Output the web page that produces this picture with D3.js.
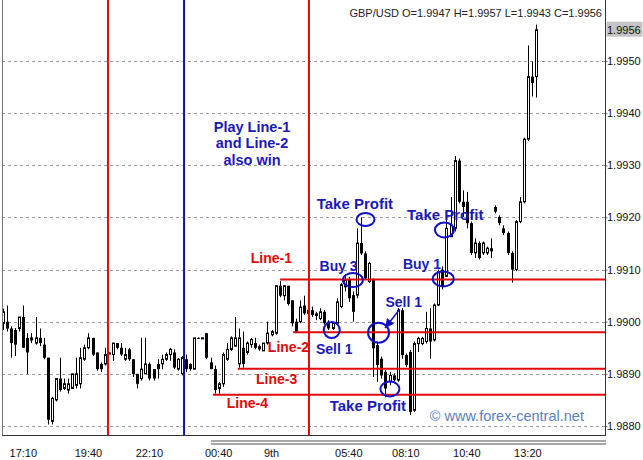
<!DOCTYPE html>
<html><head><meta charset="utf-8">
<script src="https://cdn.jsdelivr.net/npm/d3@7"></script>
<style>
html,body{margin:0;padding:0;background:#fff;}
svg{display:block;font-family:"Liberation Sans",Arial,sans-serif;}
</style></head>
<body><svg id="c" width="643" height="460"></svg>
<script>
// ---------- DATA ----------
const symbol = "GBP/USD";
const open = [1.98997,1.99000,1.98987,1.98984,1.98987,1.99009,1.98969,1.98965,1.98959,1.98969,
1.98956,1.98931,1.98809,1.98850,1.98891,1.98872,1.98869,1.98872,1.98878,1.98881,
1.98928,1.98950,1.98969,1.98941,1.98919,1.98919,1.98939,1.98937,1.98959,1.98950,
1.98928,1.98947,1.98928,1.98900,1.98891,1.98900,1.98919,1.98909,1.98919,1.98919,
1.98928,1.98937,1.98941,1.98909,1.98900,1.98928,1.98919,1.98909,1.98969,1.98968,
1.98978,1.98922,1.98909,1.98872,1.98881,1.98928,1.98947,1.98953,1.98919,1.98950,
1.98941,1.98956,1.98959,1.98953,1.98944,1.98959,1.98975,1.98978,1.99069,1.99050,
1.99069,1.99041,1.99000,1.99000,1.99031,1.99016,1.99022,1.99016,1.99006,1.99019,
1.99000,1.98987,1.98997,1.99029,1.99067,1.99080,1.99051,1.99051,1.99151,1.99131,
1.99077,1.99080,1.98955,1.98929,1.98904,1.98885,1.98897,1.98888,1.99022,1.98936,
1.98942,1.98830,1.98958,1.98958,1.98962,1.98987,1.98965,1.99032,1.99100,1.99087,
1.99163,1.99179,1.99309,1.99230,1.99230,1.99189,1.99132,1.99151,1.99132,1.99132,
1.99141,1.99220,1.99201,1.99179,1.99170,1.99132,1.99100,1.99192,1.99230,1.99350,
1.99470,1.99470];
const high = [1.99025,1.99031,1.98991,1.98988,1.99009,1.99031,1.98978,1.98978,1.99009,1.98987,
1.98969,1.98931,1.98856,1.98891,1.98931,1.98891,1.98891,1.98900,1.98931,1.98950,
1.98956,1.98978,1.98969,1.98941,1.98922,1.98950,1.98941,1.98959,1.98959,1.98959,
1.98950,1.98950,1.98928,1.98900,1.98969,1.98969,1.98922,1.98909,1.98928,1.98937,
1.98941,1.98950,1.98947,1.98930,1.98934,1.98937,1.98920,1.98969,1.98970,1.98970,
1.98978,1.98931,1.98916,1.98884,1.98941,1.98959,1.98972,1.99009,1.98987,1.98981,
1.98962,1.98969,1.98969,1.98956,1.98959,1.99000,1.98984,1.99069,1.99078,1.99069,
1.99069,1.99041,1.99006,1.99041,1.99050,1.99025,1.99029,1.99019,1.99026,1.99022,
1.99003,1.99000,1.99045,1.99074,1.99090,1.99086,1.99058,1.99179,1.99200,1.99135,
1.99115,1.99083,1.98962,1.98933,1.98907,1.98904,1.98901,1.99026,1.99026,1.98939,
1.98946,1.98962,1.98971,1.98971,1.99019,1.99026,1.99035,1.99100,1.99106,1.99201,
1.99239,1.99318,1.99313,1.99252,1.99249,1.99192,1.99160,1.99154,1.99154,1.99144,
1.99160,1.99223,1.99204,1.99185,1.99173,1.99135,1.99195,1.99239,1.99353,1.99530,
1.99499,1.99570];
const low = [1.98984,1.98981,1.98931,1.98934,1.98981,1.98950,1.98900,1.98959,1.98956,1.98953,
1.98928,1.98803,1.98803,1.98847,1.98866,1.98869,1.98862,1.98872,1.98872,1.98872,
1.98925,1.98947,1.98934,1.98906,1.98903,1.98916,1.98938,1.98925,1.98947,1.98934,
1.98925,1.98925,1.98894,1.98872,1.98887,1.98900,1.98887,1.98887,1.98891,1.98909,
1.98925,1.98925,1.98909,1.98906,1.98897,1.98903,1.98906,1.98909,1.98967,1.98967,
1.98928,1.98909,1.98862,1.98862,1.98875,1.98925,1.98944,1.98953,1.98912,1.98912,
1.98937,1.98950,1.98947,1.98944,1.98944,1.98956,1.98972,1.98975,1.99047,1.99041,
1.99031,1.98991,1.98978,1.98997,1.99013,1.99013,1.99009,1.99003,1.99003,1.98994,
1.98984,1.98984,1.98994,1.99026,1.99058,1.99038,1.99000,1.99045,1.99128,1.99080,
1.99074,1.98894,1.98885,1.98891,1.98855,1.98878,1.98885,1.98885,1.98929,1.98913,
1.98821,1.98827,1.98942,1.98955,1.98958,1.98929,1.98962,1.99030,1.99062,1.99087,
1.99163,1.99173,1.99227,1.99201,1.99179,1.99128,1.99122,1.99119,1.99128,1.99128,
1.99122,1.99208,1.99185,1.99166,1.99128,1.99075,1.99097,1.99189,1.99227,1.99347,
1.99432,1.99430];
const close = [1.99019,1.98987,1.98959,1.98956,1.99009,1.98950,1.98941,1.98969,1.98969,1.98959,
1.98931,1.98812,1.98853,1.98891,1.98869,1.98881,1.98881,1.98900,1.98900,1.98931,
1.98950,1.98969,1.98937,1.98909,1.98909,1.98937,1.98940,1.98959,1.98950,1.98937,
1.98937,1.98928,1.98900,1.98881,1.98909,1.98919,1.98891,1.98891,1.98909,1.98928,
1.98937,1.98947,1.98912,1.98928,1.98931,1.98909,1.98909,1.98969,1.98968,1.98969,
1.98931,1.98909,1.98869,1.98881,1.98937,1.98947,1.98969,1.98969,1.98969,1.98919,
1.98959,1.98966,1.98950,1.98947,1.98959,1.98978,1.98981,1.99069,1.99050,1.99069,
1.99034,1.98997,1.98981,1.99028,1.99016,1.99022,1.99013,1.99011,1.99019,1.98997,
1.98987,1.98997,1.99038,1.99071,1.99080,1.99045,1.99019,1.99151,1.99131,1.99083,
1.99112,1.98949,1.98917,1.98897,1.98872,1.98897,1.98888,1.99022,1.98936,1.98917,
1.98827,1.98958,1.98968,1.98968,1.98987,1.98962,1.99032,1.99096,1.99068,1.99179,
1.99185,1.99309,1.99230,1.99220,1.99189,1.99132,1.99151,1.99122,1.99151,1.99141,
1.99135,1.99211,1.99189,1.99170,1.99132,1.99100,1.99192,1.99230,1.99350,1.99470,
1.99458,1.99560];

const yTicks = [1.9880,1.9890,1.9900,1.9910,1.9920,1.9930,1.9940,1.9950];
const timeLabels = ["17:10","19:40","22:10","00:40","9th","05:40","08:10","10:40","13:20"];
const timeLabelBars = [5,21,36,53,66,85,99,114,129];

// vertical time lines (bar position) and colours
const vLineBars = [25.8,44.5,75.2];
const vLineKinds = ["red","blue","red"];

// horizontal levels: price and starting bar
const levelPrices = [1.99081,1.98980,1.98910,1.98860];
const levelStartBars = [68.1,71.3,57.7,51.6];

const levelNames = ["Line-1","Line-2","Line-3","Line-4"];
const levelNameBars = [60.9,65.1,62.2,55.0];
const levelNamePrices = [1.99113,1.98942,1.98881,1.98835];

const noteLines = ["Play Line-1","and Line-2","also win"];
const noteBar = 61.2;
const notePrices = [1.99364,1.99333,1.99301];

const markNames = ["Take Profit","Buy 3","Buy 1","Take Profit","Sell 1","Sell 1","Take Profit"];
const markNameBars = [77.1,77.8,98.3,99.3,94.0,76.9,80.3];
const markNamePrices = [1.99216,1.99097,1.99101,1.99195,1.99028,1.98938,1.98829];

const circleBars = [89.1,86.0,80.8,92.3,95.1,108.5,108.2];
const circlePrices = [1.99196,1.99080,1.98984,1.98979,1.98871,1.99176,1.99082];

const arrowBars = [97.5,93.9];
const arrowPrices = [1.99024,1.98988];

const copyright = "\u00A9 www.forex-central.net";
const copyBar = 104.9;
const copyPrice = 1.98809;

// ---------- STYLE ----------
const RED = "#e00a0a", BLUE = "#1a1ab8", LINE_BLUE = "#1010c8";
const circleR = [[9,6.5],[10,7],[8,8],[10.5,10],[9.5,7.5],[9.5,7.5],[10.5,7.5]];

// ---------- DRAW ----------
const svg = d3.select("#c");
const W = 643, H = 460;
const plotL = 2, plotR = 605, plotB = 435;

const x = d3.scaleLinear().domain([0, open.length - 1]).range([3, 536]);
const y = d3.scaleLinear().domain([1.9880, 1.9950]).range([426, 61]);

svg.append("rect").attr("width",W).attr("height",H).attr("fill","#fff");

// grid
svg.append("g").selectAll("line").data(yTicks).join("line")
  .attr("x1",plotL).attr("x2",plotR)
  .attr("y1",d=>Math.round(y(d))+0.5).attr("y2",d=>Math.round(y(d))+0.5)
  .attr("stroke","#9a9a9a").attr("stroke-width",1).attr("stroke-dasharray","3,3");

// candles
const bars = d3.range(open.length).map(i=>({i,o:open[i],h:high[i],l:low[i],c:close[i]}));
const cg = svg.append("g");
bars.forEach(b=>{
  const cx = Math.round(x(b.i));
  cg.append("line").attr("x1",cx+0.5).attr("x2",cx+0.5)
    .attr("y1",y(b.h)).attr("y2",y(b.l)).attr("stroke","#000").attr("stroke-width",1);
  const top = y(Math.max(b.o,b.c)), bot = y(Math.min(b.o,b.c));
  const hgt = Math.max(1, bot-top);
  if (b.c >= b.o) {
    cg.append("rect").attr("x",cx-0.5).attr("y",top).attr("width",2).attr("height",Math.max(1,hgt))
      .attr("fill","#fff").attr("stroke","#000").attr("stroke-width",1);
  } else {
    cg.append("rect").attr("x",cx-1).attr("y",top).attr("width",3).attr("height",hgt)
      .attr("fill","#000");
  }
});

// horizontal level lines
svg.append("g").selectAll("line").data(levelPrices).join("line")
  .attr("x1",(d,i)=>x(levelStartBars[i])).attr("x2",plotR)
  .attr("y1",d=>y(d)).attr("y2",d=>y(d))
  .attr("stroke",RED).attr("stroke-width",2);

// vertical lines
svg.append("g").selectAll("line").data(vLineBars).join("line")
  .attr("x1",d=>x(d)).attr("x2",d=>x(d)).attr("y1",0).attr("y2",plotB)
  .attr("stroke",(d,i)=>vLineKinds[i]==="red"?RED:"#1010a8").attr("stroke-width",2);

// frame
svg.append("line").attr("x1",plotL+0.5).attr("x2",plotL+0.5).attr("y1",0).attr("y2",plotB)
  .attr("stroke","#777").attr("stroke-width",1);
svg.append("line").attr("x1",plotL).attr("x2",plotR+1).attr("y1",plotB+0.5).attr("y2",plotB+0.5)
  .attr("stroke","#333").attr("stroke-width",1);

// right axis
const ax = svg.append("g").attr("transform",`translate(${plotR+0.5},0)`)
  .call(d3.axisRight(y).tickValues(yTicks).tickFormat(d3.format(".4f")).tickSize(2).tickPadding(0));
ax.select(".domain").remove();
ax.append("line").attr("x1",0).attr("x2",0).attr("y1",0).attr("y2",plotB+1).attr("stroke","#333");
ax.selectAll(".tick line").attr("stroke","#777");
ax.selectAll(".tick text").attr("font-family","'Liberation Sans',Arial,sans-serif")
  .attr("font-size",11).attr("fill","#111").attr("x",1.5);

// current price box
const lastC = close[close.length-1];
svg.append("rect").attr("x",plotR+1.5).attr("y",y(lastC)-8).attr("width",36).attr("height",15).attr("fill","#c4c4c4");
svg.append("text").attr("x",plotR+2).attr("y",y(lastC)+4).attr("font-size",11).attr("fill","#111")
  .text(d3.format(".4f")(lastC));

// header
const n = open.length-1;
svg.append("text").attr("x",602).attr("y",17).attr("text-anchor","end").attr("font-size",11).attr("fill","#222")
  .text(`${symbol} O=${d3.format(".4f")(open[n])} H=${d3.format(".4f")(high[n])} L=${d3.format(".4f")(low[n])} C=${d3.format(".4f")(close[n])}`);

// time labels
svg.append("g").selectAll("text").data(timeLabels).join("text")
  .attr("x",(d,i)=>x(timeLabelBars[i])).attr("y",457).attr("text-anchor","middle")
  .attr("font-size",11).attr("fill","#111").text(d=>d);

// double separator line under the axis
[441,444].forEach(yy=>svg.append("line").attr("x1",x(51.1)).attr("x2",plotR+1).attr("y1",yy).attr("y2",yy)
  .attr("stroke","#8a8a8a").attr("stroke-width",1.6));

// red level names
svg.append("g").selectAll("text").data(levelNames).join("text")
  .attr("x",(d,i)=>x(levelNameBars[i])).attr("y",(d,i)=>y(levelNamePrices[i]))
  .attr("font-size",14).attr("font-weight","bold").attr("fill",RED).text(d=>d);

// blue note
svg.append("g").selectAll("text").data(noteLines).join("text")
  .attr("x",x(noteBar)).attr("y",(d,i)=>y(notePrices[i])).attr("text-anchor","middle")
  .attr("font-size",14.5).attr("font-weight","bold").attr("fill",BLUE).text(d=>d);

// circles
svg.append("g").selectAll("ellipse").data(circleBars).join("ellipse")
  .attr("cx",d=>x(d)).attr("cy",(d,i)=>y(circlePrices[i]))
  .attr("rx",(d,i)=>circleR[i][0]).attr("ry",(d,i)=>circleR[i][1])
  .attr("fill","none").attr("stroke",LINE_BLUE).attr("stroke-width",2);

// arrow
const ax1 = x(arrowBars[0]), ay1 = y(arrowPrices[0]), ax2 = x(arrowBars[1]), ay2 = y(arrowPrices[1]);
svg.append("line").attr("x1",ax1).attr("y1",ay1).attr("x2",ax2).attr("y2",ay2)
  .attr("stroke",LINE_BLUE).attr("stroke-width",1.5);
{
  const ang = Math.atan2(ay2-ay1, ax2-ax1), L = 9, Wd = 4.5;
  const bx = ax2 - L*Math.cos(ang), by = ay2 - L*Math.sin(ang);
  const px = -Math.sin(ang)*Wd, py = Math.cos(ang)*Wd;
  svg.append("path").attr("d",`M${ax2},${ay2}L${bx+px},${by+py}L${bx-px},${by-py}Z`).attr("fill",LINE_BLUE);
}

// mark names
svg.append("g").selectAll("text").data(markNames).join("text")
  .attr("x",(d,i)=>x(markNameBars[i])).attr("y",(d,i)=>y(markNamePrices[i]))
  .attr("font-size",d=>d==="Take Profit"?15:14).attr("font-weight","bold").attr("fill",BLUE).text(d=>d);

// copyright
svg.append("text").attr("x",x(copyBar)).attr("y",y(copyPrice)).attr("font-size",14.5)
  .attr("fill","#5b80c0").text(copyright);
</script>
</body></html>
